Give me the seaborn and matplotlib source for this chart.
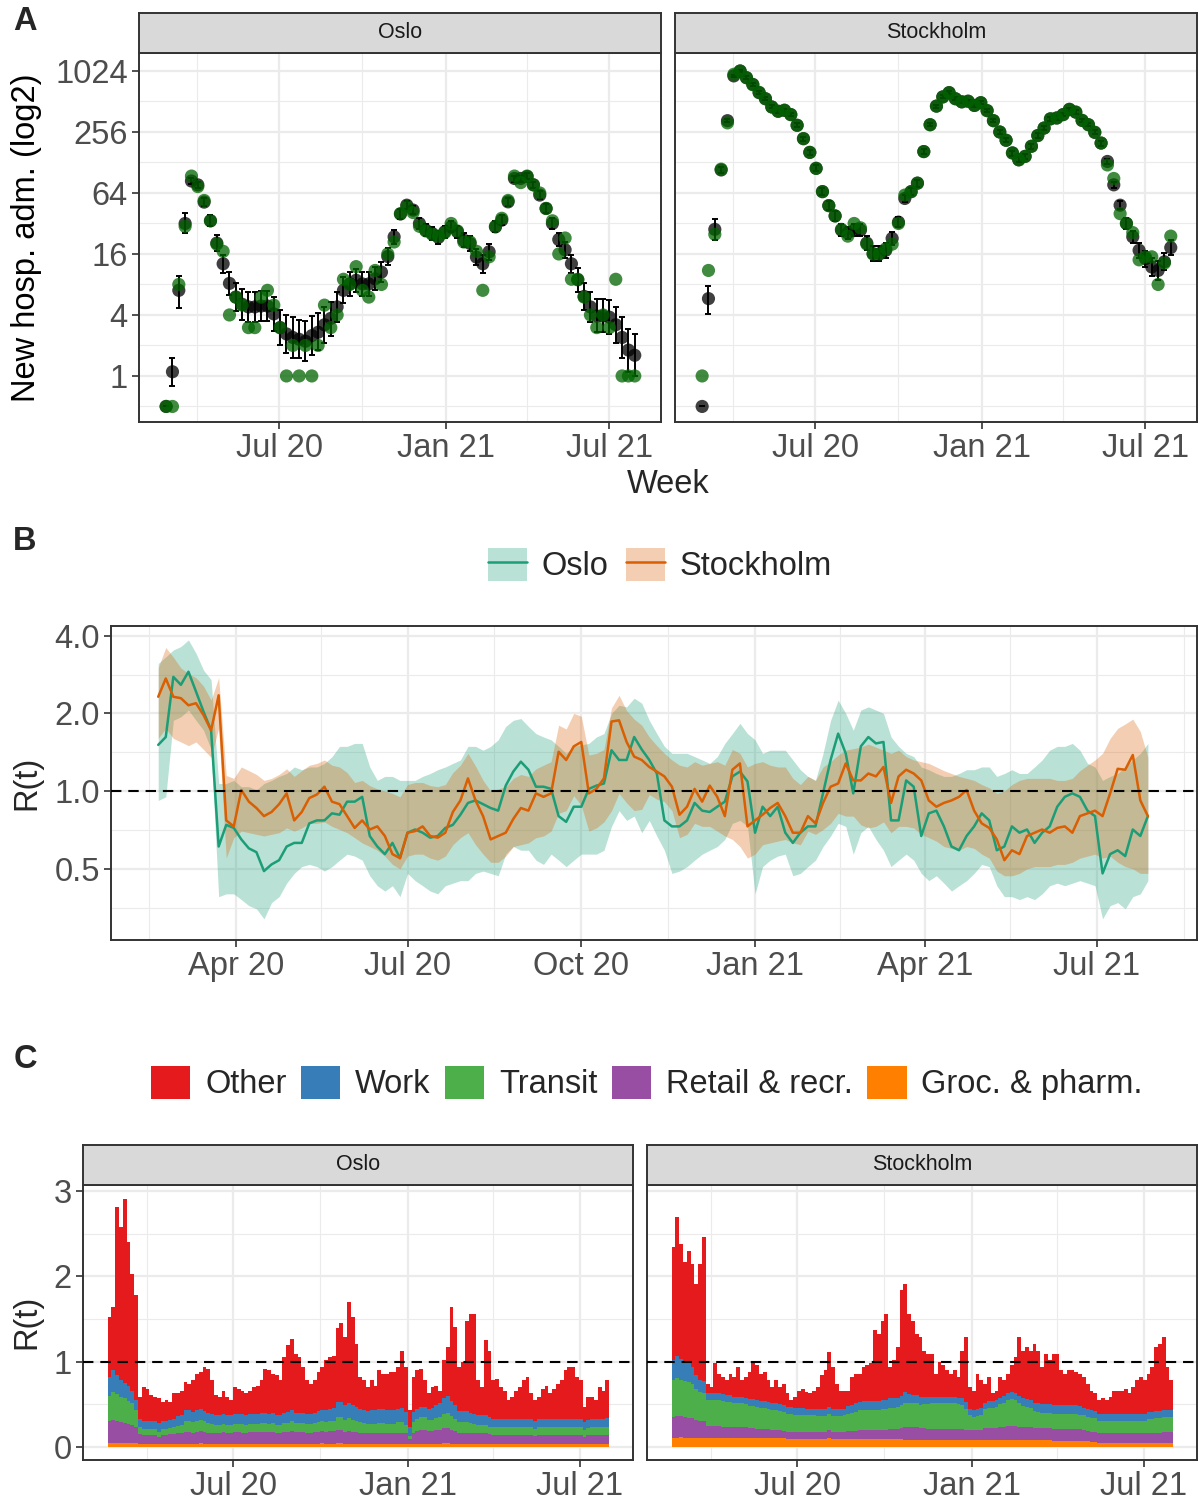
import numpy as np
import pandas as pd
import matplotlib
matplotlib.use("Agg")
import matplotlib.pyplot as plt
import matplotlib.dates as mdates
from matplotlib.patches import Patch
from matplotlib.lines import Line2D
import seaborn as sns

sns.set_theme(style="white")
plt.rcParams["font.family"] = ["Liberation Sans", "DejaVu Sans"]

# ------------------------------------------------------------------ data
# Panel A: weekly hospital admissions (first week 2020-02-27)
week_start = "2020-02-27"
osl_est = [0.5, 1.1, 7.0, 32, 84, 77, 52, 34, 20.5, 12.8,
           8.2, 6.0, 5.1, 4.8, 4.8, 4.9, 4.9, 4.1, 3.0, 2.6,
           2.4, 2.3, 2.2, 2.5, 2.7, 3.2, 3.7, 4.8, 7.0, 8.1,
           8.8, 8.1, 8.1, 9.1, 10.6, 15.1, 23.6, 39.7, 48.5, 43.4,
           32, 27.5, 25.5, 23.3, 26.5, 29.6, 26.5, 21.9, 20.3, 14.9,
           12.8, 16.8, 29.6, 34.5, 52.3, 89, 89, 93, 77, 61,
           45, 32, 22.2, 17.6, 12.8, 8.9, 6.1, 4.8, 3.9, 3.9,
           3.8, 3.2, 2.4, 1.8, 1.6]
osl_lo = [0.5, 0.8, 4.7, 26, 78, 72, 47.5, 30, 17.2, 10.4,
          6.3, 4.4, 3.6, 3.4, 3.4, 3.5, 3.5, 2.8, 2.0, 1.7,
          1.5, 1.5, 1.4, 1.6, 1.8, 2.1, 2.5, 3.4, 5.2, 6.1,
          6.8, 6.1, 6.1, 7.0, 8.4, 12.4, 20.2, 35.5, 44, 39.4,
          28.4, 24.1, 22.2, 20.2, 23.1, 26.1, 23.1, 18.8, 17.3, 12.4,
          10.4, 14.0, 26.1, 30.7, 47.8, 83, 83, 87, 72, 56,
          40.5, 28.4, 19, 14.7, 10.4, 6.8, 4.5, 3.4, 2.7, 2.7,
          2.6, 2.1, 1.5, 1.1, 1.0]
osl_hi = [0.5, 1.5, 9.8, 41, 90, 83, 57, 38.5, 24.4, 15.8,
          10.7, 8.2, 7.2, 6.8, 6.8, 6.9, 6.9, 6.0, 4.5, 4.0,
          3.8, 3.6, 3.5, 3.9, 4.2, 4.8, 5.4, 6.8, 9.4, 10.7,
          11.4, 10.7, 10.7, 11.8, 13.4, 18.3, 27.5, 44.4, 53.4, 47.8,
          36, 31.4, 29.3, 26.9, 30.4, 33.5, 30.4, 25.5, 23.8, 18.0,
          15.8, 20.1, 33.5, 38.8, 57.2, 95, 95, 100, 83, 66.3,
          50, 36, 25.9, 21.1, 15.8, 11.6, 8.3, 6.8, 5.7, 5.7,
          5.6, 4.8, 3.8, 2.9, 2.6]
osl_obs = [0.5, 0.5, 8, 30, 94, 74, 54, 34, 20, 17,
           4, 6, 5, 3, 3, 6, 7, 5, 3, 1,
           2, 1, 2, 1, 2, 5, 3, 4, 9, 8,
           12, 7, 6, 11, 8, 16, 21, 40, 47, 41,
           30, 27, 25, 24, 26, 32, 27, 21, 21, 17,
           7, 15, 30, 36, 54, 94, 81, 94, 77, 64,
           45, 34, 16, 23, 9, 9, 6, 4, 3, 4,
           3, 9, 1, 1, 1]
sto_est = [0.5, 5.8, 28, 108, 331, 916, 1024, 879, 755, 626,
           545, 452, 410, 419, 380, 298, 220, 161, 112, 66,
           48, 38, 27.5, 25.8, 27.5, 27.5, 20.5, 16.1, 16.1, 17.4,
           22.8, 33, 56.5, 66, 80, 164, 302, 461, 568, 626,
           545, 508, 515, 468, 498, 416, 331, 256, 212, 159,
           136, 147, 185, 236, 280, 345, 352, 380, 428, 402,
           333, 302, 254, 199, 131, 77, 48.5, 32, 23.6, 17.4,
           14.4, 11.9, 11.0, 13.4, 18.5]
sto_lo = [0.5, 4.1, 21.9, 101, 318, 891, 996, 855, 734, 605,
          527, 437, 396, 405, 367, 286, 210, 152, 105, 61,
          43.6, 34, 24.1, 22.5, 24.1, 24.1, 17.6, 13.5, 13.5, 14.7,
          19.7, 29.3, 51.6, 61, 74, 155, 290, 445, 549, 605,
          527, 491, 498, 452, 481, 402, 318, 244, 202, 150,
          128, 138, 175, 225, 269, 331, 338, 365, 411, 386,
          320, 290, 242, 188, 123, 71, 44, 28.4, 20.5, 14.7,
          12, 9.7, 8.9, 11, 15.6]
sto_hi = [0.5, 7.7, 35.8, 116, 345, 942, 1053, 904, 777, 648,
          564, 468, 424, 434, 393, 311, 231, 170, 120, 72,
          53, 42.5, 31.4, 29.6, 31.4, 31.4, 23.9, 19.1, 19.1, 20.5,
          26.4, 37.2, 61.8, 72, 86.4, 173, 315, 477, 588, 648,
          564, 526, 533, 484, 515, 431, 345, 269, 223, 168,
          145, 156, 196, 248, 292, 360, 367, 396, 446, 419,
          347, 315, 267, 210, 140, 83, 53.4, 36, 27.1, 20.5,
          17.3, 14.6, 13.6, 16.3, 21.9]
sto_obs = [1, 11, 25, 110, 315, 950, 1024, 880, 750, 630,
           545, 452, 410, 420, 380, 298, 220, 161, 112, 66,
           48, 38, 28, 24, 32, 29, 20, 16, 16, 18,
           20, 32, 61, 66, 80, 164, 302, 461, 568, 626,
           545, 508, 515, 468, 498, 416, 331, 256, 212, 159,
           136, 147, 185, 236, 280, 345, 352, 380, 428, 402,
           333, 302, 254, 199, 121, 89, 40, 32, 26, 14,
           15, 15, 8, 13, 24]

# Panel B / C: R(t) every 4 days starting 2020-02-20
rt_start = "2020-02-20"
osl_rt = [1.51, 1.62, 2.77, 2.58, 2.90, 2.43, 2.03, 1.72, 0.61, 0.74,
          0.72, 0.65, 0.60, 0.58, 0.49, 0.52, 0.54, 0.61, 0.63, 0.63,
          0.75, 0.77, 0.77, 0.82, 0.81, 0.91, 0.91, 0.95, 0.67, 0.61,
          0.57, 0.63, 0.55, 0.69, 0.71, 0.69, 0.66, 0.67, 0.72, 0.74,
          0.81, 0.90, 0.92, 0.89, 0.86, 0.84, 1.05, 1.19, 1.30, 1.21,
          1.04, 1.04, 1.02, 0.80, 0.76, 0.87, 0.87, 1.02, 1.05, 1.07,
          1.44, 1.32, 1.32, 1.62, 1.45, 1.32, 1.17, 0.77, 0.73, 0.73,
          0.77, 0.90, 0.84, 0.83, 0.87, 0.91, 1.14, 1.19, 1.09, 0.69,
          0.87, 0.80, 0.87, 0.69, 0.63, 0.69, 0.73, 0.73, 0.98, 1.32,
          1.67, 1.40, 0.98, 1.49, 1.62, 1.53, 1.55, 0.77, 0.77, 1.10,
          1.04, 0.67, 0.82, 0.84, 0.73, 0.61, 0.59, 0.67, 0.73, 0.82,
          0.77, 0.59, 0.61, 0.73, 0.69, 0.71, 0.63, 0.69, 0.73, 0.87,
          0.95, 0.98, 0.95, 0.84, 0.80, 0.48, 0.57, 0.59, 0.56, 0.71,
          0.67, 0.80]
osl_rt_lo = [0.92, 0.95, 1.88, 1.94, 2.06, 1.88, 1.72, 1.45, 0.39, 0.40,
             0.40, 0.38, 0.36, 0.35, 0.32, 0.37, 0.39, 0.44, 0.48, 0.51,
             0.52, 0.51, 0.49, 0.51, 0.54, 0.57, 0.56, 0.54, 0.47, 0.43,
             0.41, 0.43, 0.39, 0.48, 0.45, 0.43, 0.41, 0.40, 0.43, 0.44,
             0.45, 0.45, 0.48, 0.49, 0.48, 0.47, 0.57, 0.61, 0.59, 0.59,
             0.54, 0.52, 0.57, 0.54, 0.51, 0.54, 0.57, 0.57, 0.57, 0.59,
             0.73, 0.84, 0.77, 0.80, 0.69, 0.77, 0.67, 0.59, 0.48, 0.49,
             0.51, 0.54, 0.57, 0.59, 0.61, 0.65, 0.75, 0.77, 0.73, 0.40,
             0.51, 0.54, 0.56, 0.57, 0.47, 0.48, 0.51, 0.54, 0.61, 0.67,
             0.75, 0.73, 0.57, 0.69, 0.73, 0.65, 0.59, 0.51, 0.54, 0.57,
             0.54, 0.48, 0.45, 0.47, 0.44, 0.41, 0.43, 0.45, 0.48, 0.52,
             0.51, 0.43, 0.39, 0.39, 0.38, 0.39, 0.38, 0.40, 0.43, 0.44,
             0.43, 0.44, 0.45, 0.44, 0.43, 0.32, 0.36, 0.37, 0.35, 0.39,
             0.40, 0.45]
osl_rt_hi = [3.12, 3.31, 3.52, 3.63, 3.85, 3.42, 2.94, 2.70, 1.07, 1.07,
             1.10, 1.04, 1.04, 1.01, 1.07, 1.10, 1.14, 1.17, 1.24, 1.21,
             1.24, 1.24, 1.28, 1.36, 1.49, 1.49, 1.53, 1.53, 1.24, 1.10,
             1.14, 1.14, 1.10, 1.10, 1.10, 1.14, 1.17, 1.21, 1.24, 1.28,
             1.32, 1.49, 1.49, 1.44, 1.49, 1.58, 1.78, 1.88, 1.91, 1.78,
             1.67, 1.62, 1.58, 1.49, 1.40, 1.49, 1.51, 1.53, 1.62, 1.67,
             2.00, 2.15, 2.12, 2.29, 2.19, 1.88, 1.67, 1.49, 1.40, 1.40,
             1.40, 1.36, 1.32, 1.28, 1.36, 1.53, 1.67, 1.83, 1.67, 1.58,
             1.40, 1.44, 1.44, 1.44, 1.32, 1.21, 1.14, 1.10, 1.40, 1.88,
             2.25, 2.00, 1.72, 2.06, 2.12, 2.06, 2.00, 1.62, 1.49, 1.40,
             1.36, 1.24, 1.21, 1.17, 1.14, 1.14, 1.17, 1.21, 1.21, 1.24,
             1.24, 1.14, 1.17, 1.21, 1.17, 1.17, 1.24, 1.32, 1.44, 1.49,
             1.49, 1.53, 1.44, 1.28, 1.24, 1.10, 1.14, 1.17, 1.24, 1.32,
             1.40, 1.53]
sto_rt = [2.32, 2.73, 2.32, 2.29, 2.15, 2.19, 1.97, 1.72, 2.35, 0.77,
          0.73, 1.01, 0.91, 0.86, 0.80, 0.83, 0.89, 0.98, 0.77, 0.83,
          0.94, 0.97, 1.04, 0.91, 0.89, 0.80, 0.72, 0.77, 0.71, 0.73,
          0.67, 0.57, 0.55, 0.69, 0.70, 0.73, 0.67, 0.66, 0.69, 0.83,
          0.92, 1.12, 0.92, 0.80, 0.65, 0.67, 0.69, 0.78, 0.86, 0.84,
          0.98, 0.95, 0.98, 1.42, 1.32, 1.49, 1.55, 0.98, 1.02, 1.12,
          1.86, 1.88, 1.55, 1.36, 1.32, 1.24, 1.19, 1.14, 1.04, 0.81,
          0.87, 1.02, 0.91, 1.05, 0.95, 0.80, 1.21, 1.28, 0.73, 0.77,
          0.81, 0.86, 0.90, 0.80, 0.69, 0.69, 0.80, 0.75, 0.90, 1.04,
          1.07, 1.28, 1.10, 1.10, 1.17, 1.14, 1.24, 0.90, 1.14, 1.21,
          1.17, 1.10, 0.92, 0.87, 0.90, 0.92, 0.95, 1.01, 0.84, 0.75,
          0.72, 0.65, 0.54, 0.59, 0.57, 0.67, 0.69, 0.71, 0.69, 0.72,
          0.73, 0.69, 0.80, 0.82, 0.84, 0.80, 0.98, 1.22, 1.21, 1.38,
          0.92, 0.80]
sto_rt_lo = [1.60, 1.75, 1.60, 1.55, 1.50, 1.55, 1.45, 1.35, 1.75, 0.55,
             0.66, 0.70, 0.69, 0.68, 0.67, 0.68, 0.69, 0.72, 0.70, 0.72,
             0.75, 0.75, 0.76, 0.73, 0.71, 0.69, 0.66, 0.63, 0.61, 0.59,
             0.56, 0.52, 0.50, 0.56, 0.57, 0.57, 0.55, 0.54, 0.56, 0.62,
             0.66, 0.69, 0.62, 0.57, 0.53, 0.53, 0.56, 0.61, 0.62, 0.63,
             0.66, 0.67, 0.70, 0.82, 0.84, 0.96, 0.88, 0.70, 0.72, 0.76,
             0.84, 0.98, 0.90, 0.84, 0.85, 0.97, 0.93, 0.91, 0.84, 0.66,
             0.68, 0.75, 0.73, 0.73, 0.70, 0.67, 0.65, 0.61, 0.55, 0.57,
             0.62, 0.63, 0.64, 0.65, 0.63, 0.62, 0.70, 0.68, 0.71, 0.75,
             0.82, 0.80, 0.80, 0.74, 0.72, 0.73, 0.76, 0.69, 0.73, 0.73,
             0.72, 0.68, 0.66, 0.64, 0.61, 0.60, 0.59, 0.61, 0.60, 0.57,
             0.55, 0.49, 0.47, 0.47, 0.48, 0.50, 0.51, 0.51, 0.51, 0.52,
             0.52, 0.53, 0.55, 0.56, 0.57, 0.55, 0.56, 0.53, 0.51, 0.50,
             0.48, 0.48]
sto_rt_hi = [3.00, 3.60, 3.30, 3.00, 2.85, 2.75, 2.55, 2.25, 2.75, 1.15,
             1.12, 1.24, 1.20, 1.16, 1.10, 1.12, 1.16, 1.22, 1.14, 1.20,
             1.26, 1.28, 1.32, 1.26, 1.24, 1.18, 1.08, 1.10, 1.05, 1.02,
             1.00, 0.98, 0.95, 1.06, 1.08, 1.08, 1.05, 1.04, 1.06, 1.18,
             1.26, 1.40, 1.25, 1.10, 1.00, 1.02, 1.04, 1.12, 1.16, 1.14,
             1.22, 1.26, 1.30, 1.80, 1.74, 2.00, 1.95, 1.38, 1.40, 1.45,
             2.10, 2.35, 2.05, 1.90, 1.80, 1.62, 1.50, 1.40, 1.32, 1.26,
             1.24, 1.30, 1.26, 1.28, 1.30, 1.26, 1.45, 1.40, 1.24, 1.28,
             1.30, 1.26, 1.24, 1.24, 1.12, 1.06, 1.14, 1.10, 1.24, 1.30,
             1.38, 1.44, 1.46, 1.48, 1.52, 1.48, 1.44, 1.40, 1.44, 1.36,
             1.32, 1.30, 1.28, 1.24, 1.20, 1.17, 1.14, 1.12, 1.10, 1.06,
             1.03, 0.98, 1.00, 1.06, 1.10, 1.12, 1.12, 1.12, 1.12, 1.10,
             1.10, 1.12, 1.20, 1.26, 1.32, 1.40, 1.60, 1.75, 1.82, 1.90,
             1.70, 1.35]

# Panel C: contributions to R(t)
osl_groc = [0.05, 0.05, 0.05, 0.05, 0.05, 0.05, 0.05, 0.05, 0.04, 0.04,
            0.04, 0.04, 0.04, 0.03, 0.04, 0.04, 0.04, 0.04, 0.04, 0.04,
            0.04, 0.04, 0.04, 0.04, 0.05, 0.04, 0.04, 0.04, 0.04, 0.04,
            0.04, 0.04, 0.04, 0.04, 0.04, 0.04, 0.04, 0.04, 0.04, 0.04,
            0.04, 0.04, 0.04, 0.04, 0.04, 0.04, 0.04, 0.04, 0.04, 0.04,
            0.04, 0.04, 0.04, 0.04, 0.04, 0.04, 0.05, 0.04, 0.04, 0.04,
            0.05, 0.05, 0.04, 0.04, 0.04, 0.04, 0.04, 0.04, 0.04, 0.04,
            0.04, 0.04, 0.04, 0.04, 0.04, 0.04, 0.04, 0.04, 0.04, 0.03,
            0.04, 0.04, 0.04, 0.04, 0.04, 0.04, 0.04, 0.04, 0.05, 0.05,
            0.04, 0.04, 0.04, 0.04, 0.04, 0.04, 0.04, 0.04, 0.04, 0.04,
            0.04, 0.04, 0.04, 0.04, 0.04, 0.04, 0.04, 0.04, 0.04, 0.04,
            0.04, 0.04, 0.03, 0.04, 0.04, 0.04, 0.04, 0.04, 0.04, 0.04,
            0.04, 0.04, 0.04, 0.04, 0.04, 0.03, 0.04, 0.04, 0.04, 0.04,
            0.04, 0.04]
osl_retail = [0.25, 0.27, 0.26, 0.24, 0.23, 0.22, 0.21, 0.18, 0.11, 0.10,
              0.10, 0.10, 0.10, 0.09, 0.10, 0.10, 0.11, 0.11, 0.12, 0.12,
              0.14, 0.14, 0.13, 0.14, 0.14, 0.14, 0.13, 0.13, 0.13, 0.13,
              0.14, 0.13, 0.13, 0.14, 0.14, 0.13, 0.13, 0.14, 0.14, 0.14,
              0.14, 0.14, 0.14, 0.14, 0.13, 0.13, 0.14, 0.14, 0.15, 0.14,
              0.14, 0.14, 0.13, 0.13, 0.14, 0.14, 0.14, 0.14, 0.15, 0.15,
              0.15, 0.15, 0.14, 0.15, 0.14, 0.14, 0.13, 0.13, 0.12, 0.12,
              0.12, 0.13, 0.13, 0.12, 0.12, 0.12, 0.13, 0.13, 0.12, 0.06,
              0.13, 0.15, 0.16, 0.16, 0.15, 0.15, 0.16, 0.16, 0.17, 0.17,
              0.16, 0.15, 0.13, 0.13, 0.13, 0.13, 0.12, 0.12, 0.12, 0.12,
              0.11, 0.10, 0.10, 0.10, 0.10, 0.10, 0.10, 0.10, 0.10, 0.10,
              0.10, 0.10, 0.10, 0.10, 0.10, 0.10, 0.10, 0.10, 0.10, 0.10,
              0.10, 0.10, 0.10, 0.10, 0.10, 0.09, 0.10, 0.10, 0.10, 0.10,
              0.10, 0.10]
osl_transit = [0.30, 0.33, 0.31, 0.30, 0.29, 0.27, 0.25, 0.20, 0.08, 0.07,
               0.07, 0.07, 0.07, 0.06, 0.07, 0.07, 0.07, 0.08, 0.09, 0.10,
               0.13, 0.13, 0.12, 0.13, 0.13, 0.12, 0.11, 0.10, 0.09, 0.09,
               0.09, 0.09, 0.09, 0.09, 0.09, 0.10, 0.09, 0.09, 0.09, 0.09,
               0.10, 0.10, 0.09, 0.10, 0.09, 0.09, 0.10, 0.10, 0.11, 0.10,
               0.10, 0.10, 0.10, 0.10, 0.10, 0.11, 0.11, 0.11, 0.11, 0.12,
               0.15, 0.15, 0.14, 0.15, 0.14, 0.13, 0.12, 0.11, 0.11, 0.11,
               0.11, 0.11, 0.11, 0.11, 0.11, 0.11, 0.12, 0.12, 0.10, 0.04,
               0.12, 0.14, 0.15, 0.15, 0.13, 0.13, 0.14, 0.15, 0.17, 0.18,
               0.16, 0.14, 0.12, 0.12, 0.12, 0.11, 0.11, 0.10, 0.10, 0.10,
               0.09, 0.09, 0.09, 0.09, 0.09, 0.09, 0.09, 0.09, 0.09, 0.09,
               0.09, 0.09, 0.08, 0.09, 0.09, 0.09, 0.09, 0.09, 0.09, 0.09,
               0.09, 0.09, 0.09, 0.09, 0.09, 0.08, 0.08, 0.09, 0.09, 0.09,
               0.09, 0.09]
osl_work = [0.22, 0.25, 0.22, 0.20, 0.18, 0.17, 0.15, 0.12, 0.10, 0.10,
            0.10, 0.10, 0.10, 0.10, 0.09, 0.10, 0.10, 0.10, 0.11, 0.11,
            0.12, 0.12, 0.12, 0.12, 0.12, 0.12, 0.12, 0.12, 0.12, 0.11,
            0.12, 0.12, 0.12, 0.12, 0.12, 0.12, 0.12, 0.12, 0.12, 0.12,
            0.12, 0.12, 0.12, 0.12, 0.12, 0.12, 0.12, 0.13, 0.13, 0.12,
            0.12, 0.12, 0.12, 0.12, 0.12, 0.13, 0.13, 0.14, 0.14, 0.15,
            0.18, 0.18, 0.17, 0.18, 0.17, 0.16, 0.15, 0.15, 0.15, 0.16,
            0.16, 0.16, 0.16, 0.16, 0.16, 0.16, 0.16, 0.17, 0.15, 0.11,
            0.12, 0.12, 0.12, 0.12, 0.13, 0.14, 0.15, 0.16, 0.19, 0.20,
            0.18, 0.16, 0.13, 0.13, 0.13, 0.12, 0.12, 0.12, 0.12, 0.12,
            0.11, 0.10, 0.10, 0.10, 0.10, 0.10, 0.10, 0.10, 0.10, 0.10,
            0.10, 0.10, 0.10, 0.10, 0.10, 0.10, 0.10, 0.10, 0.10, 0.10,
            0.10, 0.10, 0.10, 0.10, 0.10, 0.09, 0.10, 0.10, 0.10, 0.10,
            0.10, 0.11]
osl_other = [0.70, 0.74, 1.97, 1.79, 2.16, 1.69, 1.37, 1.23, 0.26, 0.39,
             0.37, 0.30, 0.28, 0.29, 0.23, 0.24, 0.21, 0.30, 0.27, 0.29,
             0.33, 0.31, 0.37, 0.43, 0.44, 0.52, 0.52, 0.39, 0.23, 0.22,
             0.27, 0.21, 0.17, 0.31, 0.29, 0.27, 0.25, 0.27, 0.31, 0.33,
             0.38, 0.52, 0.51, 0.46, 0.46, 0.40, 0.65, 0.78, 0.84, 0.69,
             0.65, 0.54, 0.39, 0.35, 0.38, 0.46, 0.51, 0.59, 0.61, 0.61,
             0.86, 0.92, 0.80, 1.18, 1.03, 0.74, 0.38, 0.35, 0.28, 0.35,
             0.29, 0.46, 0.42, 0.43, 0.45, 0.45, 0.49, 0.67, 0.53, 0.19,
             0.41, 0.45, 0.45, 0.31, 0.18, 0.24, 0.23, 0.15, 0.44, 0.57,
             1.10, 0.92, 0.52, 0.58, 1.06, 1.16, 1.17, 0.40, 0.32, 0.87,
             0.78, 0.45, 0.47, 0.37, 0.33, 0.22, 0.26, 0.33, 0.37, 0.45,
             0.49, 0.30, 0.24, 0.26, 0.35, 0.39, 0.30, 0.35, 0.41, 0.45,
             0.57, 0.61, 0.61, 0.49, 0.45, 0.18, 0.27, 0.26, 0.22, 0.37,
             0.33, 0.44]
sto_groc = [0.11, 0.11, 0.12, 0.11, 0.11, 0.11, 0.11, 0.11, 0.11, 0.10,
            0.10, 0.10, 0.10, 0.10, 0.10, 0.10, 0.10, 0.10, 0.10, 0.10,
            0.10, 0.10, 0.10, 0.10, 0.10, 0.10, 0.10, 0.10, 0.10, 0.10,
            0.09, 0.09, 0.09, 0.09, 0.09, 0.09, 0.09, 0.09, 0.09, 0.09,
            0.09, 0.10, 0.09, 0.09, 0.09, 0.09, 0.09, 0.09, 0.09, 0.09,
            0.09, 0.09, 0.09, 0.09, 0.09, 0.09, 0.09, 0.09, 0.09, 0.09,
            0.09, 0.08, 0.08, 0.08, 0.08, 0.08, 0.08, 0.08, 0.08, 0.08,
            0.08, 0.08, 0.08, 0.08, 0.08, 0.08, 0.08, 0.08, 0.08, 0.08,
            0.08, 0.08, 0.08, 0.08, 0.08, 0.08, 0.08, 0.08, 0.08, 0.08,
            0.08, 0.08, 0.08, 0.08, 0.08, 0.08, 0.08, 0.08, 0.08, 0.08,
            0.07, 0.07, 0.07, 0.07, 0.07, 0.07, 0.07, 0.07, 0.07, 0.07,
            0.06, 0.06, 0.05, 0.05, 0.05, 0.05, 0.05, 0.05, 0.05, 0.05,
            0.05, 0.05, 0.05, 0.05, 0.05, 0.05, 0.05, 0.05, 0.05, 0.05,
            0.05, 0.05]
sto_retail = [0.24, 0.25, 0.24, 0.24, 0.23, 0.23, 0.21, 0.20, 0.20, 0.15,
              0.15, 0.15, 0.15, 0.14, 0.14, 0.14, 0.13, 0.13, 0.13, 0.13,
              0.12, 0.12, 0.11, 0.11, 0.11, 0.11, 0.10, 0.10, 0.10, 0.09,
              0.09, 0.09, 0.09, 0.09, 0.09, 0.09, 0.09, 0.09, 0.09, 0.09,
              0.09, 0.10, 0.09, 0.09, 0.09, 0.09, 0.10, 0.10, 0.10, 0.11,
              0.11, 0.11, 0.11, 0.11, 0.11, 0.11, 0.11, 0.12, 0.12, 0.12,
              0.13, 0.15, 0.15, 0.15, 0.15, 0.14, 0.14, 0.13, 0.13, 0.13,
              0.13, 0.13, 0.13, 0.13, 0.13, 0.13, 0.13, 0.12, 0.12, 0.12,
              0.12, 0.12, 0.14, 0.14, 0.14, 0.14, 0.15, 0.16, 0.17, 0.17,
              0.17, 0.16, 0.15, 0.15, 0.15, 0.14, 0.14, 0.14, 0.14, 0.14,
              0.14, 0.14, 0.14, 0.14, 0.14, 0.14, 0.14, 0.14, 0.13, 0.12,
              0.12, 0.12, 0.11, 0.11, 0.11, 0.11, 0.11, 0.11, 0.11, 0.11,
              0.11, 0.11, 0.11, 0.11, 0.11, 0.12, 0.12, 0.12, 0.12, 0.13,
              0.13, 0.13]
sto_transit = [0.43, 0.45, 0.43, 0.42, 0.42, 0.40, 0.36, 0.33, 0.32, 0.30,
               0.30, 0.30, 0.30, 0.30, 0.29, 0.29, 0.28, 0.28, 0.28, 0.27,
               0.26, 0.26, 0.26, 0.25, 0.25, 0.24, 0.23, 0.23, 0.22, 0.22,
               0.21, 0.21, 0.20, 0.20, 0.20, 0.19, 0.19, 0.19, 0.18, 0.18,
               0.18, 0.19, 0.18, 0.18, 0.18, 0.19, 0.20, 0.21, 0.22, 0.23,
               0.23, 0.23, 0.23, 0.23, 0.23, 0.24, 0.24, 0.25, 0.25, 0.26,
               0.27, 0.29, 0.28, 0.28, 0.28, 0.27, 0.28, 0.29, 0.30, 0.30,
               0.30, 0.30, 0.30, 0.30, 0.30, 0.29, 0.28, 0.25, 0.17, 0.15,
               0.16, 0.18, 0.22, 0.24, 0.24, 0.25, 0.27, 0.28, 0.30, 0.31,
               0.30, 0.27, 0.25, 0.24, 0.23, 0.20, 0.19, 0.18, 0.18, 0.18,
               0.18, 0.18, 0.18, 0.18, 0.18, 0.18, 0.18, 0.17, 0.17, 0.16,
               0.16, 0.16, 0.15, 0.15, 0.15, 0.15, 0.15, 0.15, 0.15, 0.15,
               0.15, 0.15, 0.15, 0.15, 0.15, 0.16, 0.16, 0.17, 0.17, 0.17,
               0.17, 0.17]
sto_work = [0.24, 0.26, 0.24, 0.23, 0.22, 0.20, 0.16, 0.15, 0.14, 0.08,
            0.08, 0.08, 0.08, 0.08, 0.08, 0.08, 0.08, 0.08, 0.08, 0.08,
            0.08, 0.08, 0.08, 0.08, 0.08, 0.08, 0.08, 0.08, 0.08, 0.08,
            0.08, 0.08, 0.08, 0.08, 0.08, 0.08, 0.08, 0.08, 0.08, 0.08,
            0.08, 0.08, 0.08, 0.08, 0.08, 0.08, 0.09, 0.09, 0.10, 0.10,
            0.11, 0.11, 0.11, 0.11, 0.11, 0.11, 0.11, 0.11, 0.11, 0.11,
            0.11, 0.12, 0.11, 0.10, 0.10, 0.10, 0.09, 0.09, 0.08, 0.08,
            0.08, 0.08, 0.08, 0.08, 0.08, 0.08, 0.08, 0.08, 0.08, 0.08,
            0.08, 0.08, 0.08, 0.08, 0.08, 0.08, 0.08, 0.08, 0.08, 0.08,
            0.08, 0.09, 0.09, 0.09, 0.09, 0.10, 0.10, 0.10, 0.10, 0.10,
            0.10, 0.10, 0.10, 0.10, 0.10, 0.10, 0.10, 0.10, 0.09, 0.09,
            0.09, 0.08, 0.08, 0.08, 0.08, 0.08, 0.08, 0.08, 0.08, 0.08,
            0.08, 0.08, 0.08, 0.08, 0.08, 0.08, 0.08, 0.08, 0.08, 0.08,
            0.08, 0.08]
sto_other = [1.32, 1.63, 1.35, 1.17, 1.32, 1.21, 1.07, 1.36, 1.69, 0.11,
             0.07, 0.35, 0.23, 0.20, 0.17, 0.25, 0.23, 0.35, 0.19, 0.24,
             0.32, 0.44, 0.41, 0.32, 0.34, 0.25, 0.19, 0.27, 0.20, 0.25,
             0.16, 0.08, 0.13, 0.20, 0.22, 0.19, 0.18, 0.21, 0.26, 0.40,
             0.46, 0.64, 0.50, 0.30, 0.22, 0.21, 0.18, 0.33, 0.35, 0.33,
             0.40, 0.42, 0.44, 0.83, 0.79, 0.93, 1.01, 0.37, 0.45, 0.59,
             1.24, 1.27, 0.94, 0.87, 0.72, 0.70, 0.54, 0.50, 0.50, 0.27,
             0.41, 0.37, 0.31, 0.27, 0.31, 0.24, 0.56, 0.76, 0.25, 0.23,
             0.42, 0.32, 0.22, 0.28, 0.09, 0.11, 0.24, 0.18, 0.23, 0.32,
             0.42, 0.69, 0.56, 0.61, 0.58, 0.69, 0.62, 0.44, 0.59, 0.52,
             0.60, 0.60, 0.41, 0.37, 0.41, 0.41, 0.39, 0.38, 0.36, 0.30,
             0.23, 0.21, 0.16, 0.18, 0.16, 0.20, 0.27, 0.27, 0.27, 0.29,
             0.24, 0.31, 0.39, 0.43, 0.39, 0.45, 0.53, 0.75, 0.79, 0.86,
             0.51, 0.35]

cities = ["Oslo", "Stockholm"]
driver_labels = ["Other", "Work", "Transit", "Retail & recr.", "Groc. & pharm."]

# ------------------------------------------------------------------ style
W, H = 1200, 1500
FS = 23.5
STRIP_FS = 15.5
GRID = "#EBEBEB"
BORDER = "#333333"
LABC = "#4D4D4D"
C_OSL = "#1B9E77"
C_STO = "#D95F02"
SET1 = {"Other": "#E41A1C", "Work": "#377EB8", "Transit": "#4DAF4A",
        "Retail & recr.": "#984EA3", "Groc. & pharm.": "#FF7F00"}


def rect(l, t, r, b):
    return [l / W, 1 - b / H, (r - l) / W, (b - t) / H]


def style_ax(ax, show_y=True):
    ax.set_facecolor("white")
    for s in ax.spines.values():
        s.set_visible(True)
        s.set_color(BORDER)
        s.set_linewidth(1.4)
    ax.tick_params(axis="both", which="major", length=5, width=1.2,
                   color=BORDER, labelsize=FS, labelcolor=LABC, pad=3,
                   bottom=True, left=show_y, labelleft=show_y)
    ax.tick_params(axis="both", which="minor", length=0)
    ax.grid(True, which="major", color=GRID, lw=1.6)
    ax.grid(True, which="minor", color=GRID, lw=0.8)
    ax.set_axisbelow(True)
    ax.set_xlabel("")
    ax.set_ylabel("")


def date_ticks(ax, majors, labels, minors):
    ax.set_xticks([mdates.date2num(pd.Timestamp(d)) for d in majors])
    ax.set_xticklabels(labels)
    ax.set_xticks([mdates.date2num(pd.Timestamp(d)) for d in minors], minor=True)


def strip(fig, l, t, r, b, text):
    sax = fig.add_axes(rect(l, t, r, b))
    sax.set_facecolor("#D9D9D9")
    sax.set_xticks([])
    sax.set_yticks([])
    for s in sax.spines.values():
        s.set_color(BORDER)
        s.set_linewidth(1.4)
    sax.text(0.5, 0.5, text, ha="center", va="center", fontsize=STRIP_FS,
             color="#1A1A1A", transform=sax.transAxes)


fig = plt.figure(figsize=(12, 15), dpi=100)

# ------------------------------------------------------------------ panel A
weeks = pd.date_range(week_start, periods=len(osl_est), freq="7D")
panelA = [(139, 661, osl_est, osl_lo, osl_hi, osl_obs, "Oslo"),
          (675, 1197, sto_est, sto_lo, sto_hi, sto_obs, "Stockholm")]
for k, (l, r, est, lo, hi, obs, name) in enumerate(panelA):
    ax = fig.add_axes(rect(l, 53, r, 422))
    est_a, lo_a, hi_a = np.array(est), np.array(lo), np.array(hi)
    dfa = pd.DataFrame({"week": weeks, "est": est_a, "obs": obs})
    sns.scatterplot(data=dfa, x="week", y="est", color="black", alpha=0.75,
                    s=90, edgecolor="none", ax=ax, zorder=3)
    ax.errorbar(dfa["week"], est_a, yerr=[est_a - lo_a, hi_a - est_a], fmt="none",
                ecolor="black", elinewidth=1.4, capsize=2.2, capthick=1.4, zorder=3.5)
    sns.scatterplot(data=dfa, x="week", y="obs", color="darkgreen", alpha=0.75,
                    s=90, edgecolor="none", ax=ax, zorder=4)
    ax.set_yscale("log", base=2)
    ax.set_ylim(2 ** -1.51, 2 ** 10.59)
    ax.set_yticks([1, 4, 16, 64, 256, 1024])
    ax.set_yticklabels(["1", "4", "16", "64", "256", "1024"])
    ax.set_yticks([0.5, 2, 8, 32, 128, 512], minor=True)
    ax.yaxis.set_minor_formatter(matplotlib.ticker.NullFormatter())
    ax.set_xlim(pd.Timestamp("2020-01-28"), pd.Timestamp("2021-08-27"))
    date_ticks(ax, ["2020-07-01", "2021-01-01", "2021-07-01"],
               ["Jul 20", "Jan 21", "Jul 21"],
               ["2020-04-01", "2020-10-01", "2021-04-01"])
    style_ax(ax, show_y=(k == 0))
    strip(fig, l, 13, r, 53, name)

fig.text(27 / W, 1 - 237.5 / H, "New hosp. adm. (log2)", rotation=90,
         ha="center", va="center", fontsize=FS, color="black")
fig.text(668 / W, 1 - 485 / H, "Week", ha="center", va="center", fontsize=FS)

# ------------------------------------------------------------------ panel B
days = pd.date_range(rt_start, periods=len(osl_rt), freq="4D")
axB = fig.add_axes(rect(111, 626, 1197, 940))
seriesB = [(osl_rt, osl_rt_lo, osl_rt_hi, C_OSL),
           (sto_rt, sto_rt_lo, sto_rt_hi, C_STO)]
for med, lo, hi, col in seriesB:
    axB.fill_between(days, lo, hi, color=col, alpha=0.3, linewidth=0)
    sns.lineplot(x=days, y=med, color=col, linewidth=1.8, ax=axB)
axB.axhline(1, color="black", lw=1.5, ls=(0, (5, 3.3)), zorder=6)
axB.set_yscale("log", base=2)
axB.set_ylim(0.265, 4.36)
axB.set_yticks([0.5, 1, 2, 4])
axB.set_yticklabels(["0.5", "1.0", "2.0", "4.0"])
axB.set_yticks([2 ** -1.5, 2 ** -0.5, 2 ** 0.5, 2 ** 1.5], minor=True)
axB.yaxis.set_minor_formatter(matplotlib.ticker.NullFormatter())
axB.set_xlim(pd.Timestamp("2020-01-26"), pd.Timestamp("2021-08-23"))
date_ticks(axB, ["2020-04-01", "2020-07-01", "2020-10-01", "2021-01-01",
                 "2021-04-01", "2021-07-01"],
           ["Apr 20", "Jul 20", "Oct 20", "Jan 21", "Apr 21", "Jul 21"],
           ["2020-02-15", "2020-05-16", "2020-08-16", "2020-11-16",
            "2021-02-15", "2021-05-16", "2021-08-16"])
style_ax(axB)
fig.text(27 / W, 1 - 783 / H, "R(t)", rotation=90, ha="center", va="center",
         fontsize=FS)

hB = [(Patch(facecolor=C_OSL, alpha=0.3, edgecolor="none"),
       Line2D([0], [0], color=C_OSL, lw=1.8)),
      (Patch(facecolor=C_STO, alpha=0.3, edgecolor="none"),
       Line2D([0], [0], color=C_STO, lw=1.8))]
fig.legend(hB, cities, loc="center", bbox_to_anchor=(660 / W, 1 - 565 / H),
           ncol=2, frameon=False, fontsize=FS, handlelength=1.2,
           handleheight=1.17, handletextpad=0.46, columnspacing=0.52)

# ------------------------------------------------------------------ panel C
panelC = [(83, 633, "Oslo", {"Groc. & pharm.": osl_groc, "Retail & recr.": osl_retail,
                             "Transit": osl_transit, "Work": osl_work, "Other": osl_other}),
          (647, 1197, "Stockholm", {"Groc. & pharm.": sto_groc, "Retail & recr.": sto_retail,
                                    "Transit": sto_transit, "Work": sto_work, "Other": sto_other})]
stack_order = ["Groc. & pharm.", "Retail & recr.", "Transit", "Work", "Other"]
for k, (l, r, name, comp) in enumerate(panelC):
    ax = fig.add_axes(rect(l, 1185, r, 1460))
    bottom = np.zeros(len(days))
    for key in stack_order:
        vals = np.array(comp[key])
        ax.bar(days, vals, width=4.0, bottom=bottom, color=SET1[key],
               align="edge", linewidth=0)
        bottom = bottom + vals
    ax.axhline(1, color="black", lw=1.5, ls=(0, (5, 3.3)), zorder=6)
    ax.set_ylim(-0.152, 3.07)
    ax.set_yticks([0, 1, 2, 3])
    ax.set_yticklabels(["0", "1", "2", "3"])
    ax.set_yticks([0.5, 1.5, 2.5], minor=True)
    ax.set_xlim(pd.Timestamp("2020-01-25"), pd.Timestamp("2021-08-26"))
    date_ticks(ax, ["2020-07-01", "2021-01-01", "2021-07-01"],
               ["Jul 20", "Jan 21", "Jul 21"],
               ["2020-04-01", "2020-10-01", "2021-04-01"])
    style_ax(ax, show_y=(k == 0))
    strip(fig, l, 1145, r, 1185, name)

fig.text(27 / W, 1 - 1322 / H, "R(t)", rotation=90, ha="center", va="center",
         fontsize=FS)
hC = [Patch(facecolor=SET1[d], edgecolor="none") for d in driver_labels]
fig.legend(hC, driver_labels, loc="center", bbox_to_anchor=(647 / W, 1 - 1083 / H),
           ncol=5, frameon=False, fontsize=FS, handlelength=1.2,
           handleheight=1.2, handletextpad=0.45, columnspacing=0.45)

# panel letters
for letter, y in [("A", 22), ("B", 542), ("C", 1060)]:
    fig.text(25 / W, 1 - y / H, letter, ha="center", va="center",
             fontsize=FS, fontweight="bold")

fig.savefig("out.png", dpi=100)
